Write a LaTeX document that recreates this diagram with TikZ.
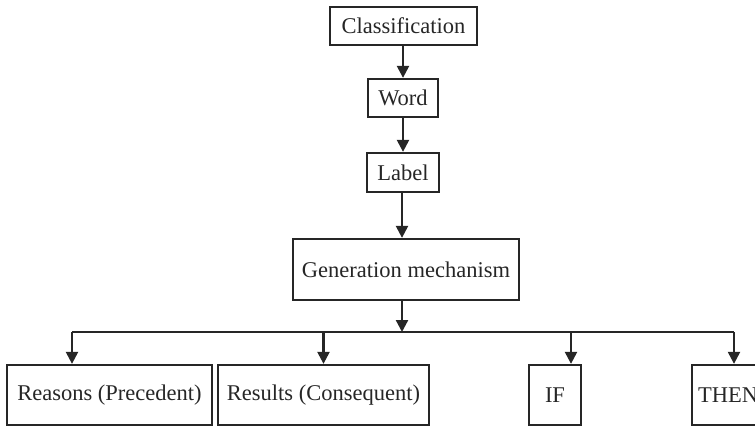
\documentclass[tikz,border=0pt]{standalone}
\usepackage{fontspec}
\setmainfont{Liberation Serif}
\usetikzlibrary{arrows.meta}
\begin{document}
\begin{tikzpicture}[x=1pt,y=-1pt,
  box/.style={draw=black!85, line width=2.3pt, rectangle, inner sep=0pt,
    font=\fontsize{22.5}{26}\selectfont, text=black!85},
  conn/.style={draw=black!85, line width=2.3pt},
  arr/.style={conn, -{Triangle[length=12pt,width=12pt]}}]
\useasboundingbox (0,0) rectangle (755,426);
\begin{scope}
\clip (0,0) rectangle (755,426);
\node[box, minimum width=147pt, minimum height=38pt] (cls) at (403.5,26) {Classification};
\node[box, minimum width=70pt, minimum height=38pt] (word) at (403,98) {Word};
\node[box, minimum width=72pt, minimum height=39pt] (label) at (403,172.5) {Label};
\node[box, minimum width=226pt, minimum height=61pt] (gen) at (406,269.5) {Generation mechanism};
\node[box, minimum width=205pt, minimum height=60pt] (reasons) at (109.5,395) {Reasons (Precedent)};
\node[box, minimum width=211pt, minimum height=60pt] (results) at (323.5,395) {Results (Consequent)};
\node[box, minimum width=52pt, minimum height=60pt] (if) at (555,395) {IF};
\node[box, minimum width=72pt, minimum height=60pt] (then) at (728,395) {THEN};

\coordinate (bus) at (402,332);
\coordinate (busL) at (72,332);
\coordinate (busR) at (734,332);
\coordinate (ifdrop) at (571,332);

\draw[arr] (cls.south -| word.north) -- (word.north);
\draw[arr] (word.south) -- (label.north);
\draw[arr] (label.south -| bus) -- (gen.north -| bus);
\draw[arr] (gen.south -| bus) -- (bus);
\draw[conn] (busL) -- (busR);
\draw[arr] (busL) -- (busL |- reasons.north);
\draw[arr] (results.north |- bus) -- (results.north);
\draw[arr] (ifdrop) -- (ifdrop |- if.north);
\draw[arr] (busR) -- (busR |- then.north);
\end{scope}
\end{tikzpicture}
\end{document}
